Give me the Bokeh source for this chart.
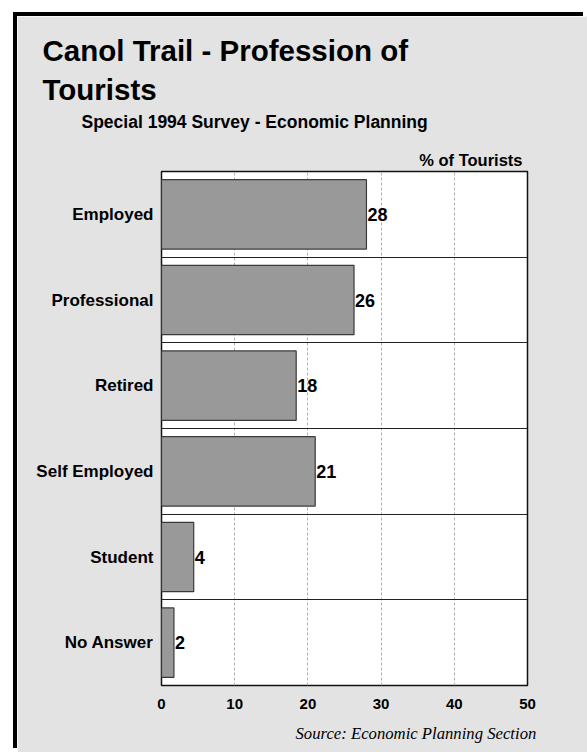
from bokeh.plotting import figure
from bokeh.models import FixedTicker, ColumnDataSource, Range1d, Title
from bokeh.core.properties import value
from bokeh.embed import file_html
from bokeh.resources import INLINE

categories = ["Employed", "Professional", "Retired", "Self Employed", "Student", "No Answer"]
percent = [28.0, 26.3, 18.4, 21.0, 4.4, 1.7]
bar_labels = ["28", "26", "18", "21", "4", "2"]
x_ticks = [0, 10, 20, 30, 40, 50]

# panel placed inside the window with a margin (page stays white outside)
OX, OY = 17, 16
W, H = 587 - OX, 752 - OY
FL, FR, FT, FB = 161 - OX, 527 - OX, 171 - OY, 686 - OY
XMAX, NCAT = 50, len(categories)
FONT = "Liberation Sans"

p = figure(width=W, height=H, output_backend="svg", toolbar_location=None,
           x_range=Range1d(0, XMAX), y_range=Range1d(0, NCAT),
           min_border_left=FL, min_border_right=W - FR,
           min_border_top=FT, min_border_bottom=H - FB,
           margin=(OY, 0, 0, OX),
           styles={"box-shadow": "-4px -4px 0px 0px black"})
p.title = None
p.border_fill_color = "#e3e3e3"
p.background_fill_color = "white"
p.outline_line_color = "#111111"
p.outline_line_width = 1.5

centers = [NCAT - i - 0.5 for i in range(NCAT)]
src = ColumnDataSource(dict(y=centers, v=percent, lab=bar_labels, cat=categories))

p.hbar(y="y", right="v", left=0, height=0.81, source=src,
       fill_color="#999999", line_color="#3a3a3a", line_width=1.2)
p.text(x="v", y="y", text="lab", source=src, x_offset=1,
       text_baseline="middle", text_align="left",
       text_font=value(FONT), text_font_style="bold",
       text_font_size="18px", text_color="black")

# axes
for ax in (p.xaxis[0], p.yaxis[0]):
    ax.axis_line_color = None
    ax.major_tick_line_color = None
    ax.minor_tick_line_color = None
    ax.major_tick_out = 0
    ax.major_tick_in = 0
    ax.minor_tick_out = 0
    ax.minor_tick_in = 0
    ax.major_label_text_font = FONT
    ax.major_label_text_font_style = "bold"
    ax.major_label_text_color = "black"

p.xaxis.ticker = FixedTicker(ticks=x_ticks)
p.xaxis.major_label_standoff = 13
p.xaxis.major_label_text_font_size = "15px"

p.yaxis.ticker = FixedTicker(ticks=centers)
p.yaxis.major_label_overrides = {c: n for c, n in zip(centers, categories)}
p.yaxis.major_label_standoff = 8
p.yaxis.major_label_text_font_size = "17px"

p.xgrid.ticker = FixedTicker(ticks=x_ticks[1:-1])
p.xgrid.grid_line_color = "#b0b0b0"
p.xgrid.grid_line_dash = "3 2"
p.xgrid.grid_line_width = 1
p.ygrid.ticker = FixedTicker(ticks=list(range(1, NCAT)))
p.ygrid.grid_line_color = "#222222"
p.ygrid.grid_line_width = 1.2

# titles, stacked from the frame outward
def title(text, size, side="above", align="left", offset=0, style="bold", font=FONT, standoff=0):
    t = Title(text=text, align=align, offset=offset, text_font=font,
              text_font_style=style, text_font_size=size, text_color="black",
              standoff=standoff)
    p.add_layout(t, side)

title("% of Tourists", "16.5px", align="right", offset=5, standoff=5)
title("Special 1994 Survey - Economic Planning", "17.5px", offset=-(161 - 81), standoff=30)
title("Tourists", "29.5px", offset=-(161 - 42), standoff=-22)
title("Canol Trail - Profession of", "29.5px", offset=-(161 - 42), standoff=30)
title("Source:  Economic Planning Section", "16.7px", side="below", align="right",
      offset=-13, style="italic", font="Liberation Serif", standoff=20)

open("out.html", "w").write(file_html(p, INLINE))
